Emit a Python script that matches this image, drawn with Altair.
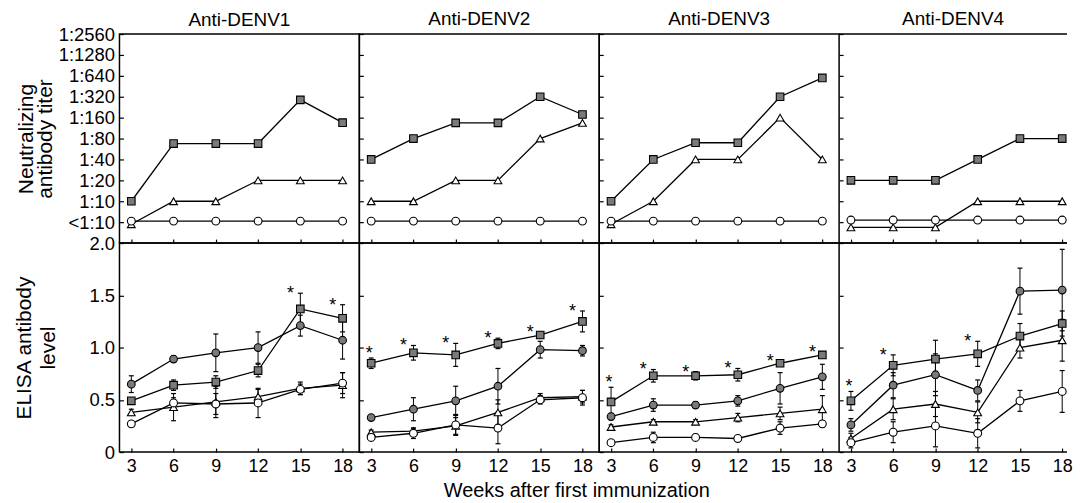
import altair as alt
import pandas as pd

FONT = "Liberation Sans"

weeks = [3, 6, 9, 12, 15, 18]
panel_names = ["Anti-DENV1", "Anti-DENV2", "Anti-DENV3", "Anti-DENV4"]
titer_labels = ["<1:10", "1:10", "1:20", "1:40", "1:80", "1:160",
                "1:320", "1:640", "1:1280", "1:2560"]
titer_levels = [0, 1, 2, 3, 4, 5, 6, 7, 8, 9]
elisa_ticks = [0, 0.5, 1.0, 1.5, 2.0]

# ---- neutralizing titers (index into titer_labels; fractional = between steps)
nt_square = [
    [1, 3.76, 3.76, 3.76, 5.85, 4.76],
    [3, 4, 4.75, 4.75, 6, 5.15],
    [1, 3, 3.8, 3.8, 6, 6.9],
    [2, 2, 2, 3, 4, 4],
]
nt_triangle = [
    [-0.1, 1, 1, 2, 2, 2],
    [1, 1, 2, 2, 4, 4.75],
    [-0.1, 1, 3, 3, 5, 3],
    [-0.25, -0.25, -0.25, 1, 1, 1],
]
nt_circle = [
    [0.05, 0.05, 0.05, 0.05, 0.05, 0.05],
    [0.05, 0.05, 0.05, 0.05, 0.05, 0.05],
    [0.05, 0.05, 0.05, 0.05, 0.05, 0.05],
    [0.1, 0.1, 0.1, 0.1, 0.1, 0.1],
]

# ---- ELISA antibody levels (mean, error)
el_square = [
    [0.49, 0.64, 0.67, 0.78, 1.37, 1.28],
    [0.85, 0.95, 0.93, 1.04, 1.12, 1.25],
    [0.48, 0.73, 0.73, 0.74, 0.85, 0.93],
    [0.49, 0.83, 0.89, 0.94, 1.11, 1.23],
]
el_square_err = [
    [0.03, 0.05, 0.06, 0.06, 0.15, 0.13],
    [0.05, 0.07, 0.11, 0.05, 0.03, 0.10],
    [0.14, 0.06, 0.04, 0.06, 0.02, 0.03],
    [0.09, 0.10, 0.18, 0.12, 0.12, 0.12],
]
el_fcircle = [
    [0.65, 0.89, 0.95, 1.00, 1.21, 1.07],
    [0.33, 0.41, 0.49, 0.63, 0.98, 0.97],
    [0.34, 0.45, 0.45, 0.49, 0.61, 0.72],
    [0.26, 0.64, 0.74, 0.59, 1.54, 1.55],
]
el_fcircle_err = [
    [0.08, 0.03, 0.18, 0.15, 0.10, 0.18],
    [0.02, 0.11, 0.14, 0.17, 0.08, 0.05],
    [0.03, 0.06, 0.03, 0.05, 0.15, 0.12],
    [0.06, 0.12, 0.20, 0.10, 0.22, 0.39],
]
el_triangle = [
    [0.38, 0.43, 0.48, 0.53, 0.61, 0.64],
    [0.19, 0.20, 0.25, 0.38, 0.52, 0.53],
    [0.24, 0.29, 0.29, 0.33, 0.37, 0.41],
    [0.13, 0.41, 0.46, 0.38, 1.00, 1.07],
]
el_triangle_err = [
    [0.03, 0.13, 0.15, 0.07, 0.06, 0.12],
    [0.02, 0.03, 0.08, 0.12, 0.04, 0.06],
    [0.02, 0.02, 0.02, 0.04, 0.06, 0.13],
    [0.05, 0.10, 0.12, 0.10, 0.10, 0.20],
]
el_ocircle = [
    [0.27, 0.47, 0.46, 0.47, 0.60, 0.66],
    [0.14, 0.18, 0.26, 0.23, 0.50, 0.52],
    [0.09, 0.14, 0.14, 0.13, 0.23, 0.27],
    [0.09, 0.19, 0.25, 0.18, 0.49, 0.58],
]
el_ocircle_err = [
    [0.02, 0.05, 0.10, 0.14, 0.05, 0.10],
    [0.03, 0.05, 0.10, 0.15, 0.04, 0.07],
    [0.02, 0.05, 0.03, 0.02, 0.06, 0.03],
    [0.05, 0.10, 0.20, 0.14, 0.10, 0.20],
]
# significance asterisks on the square series
star_flags = [
    [0, 0, 0, 0, 1, 1],
    [1, 1, 1, 1, 1, 1],
    [1, 1, 1, 1, 1, 1],
    [1, 1, 0, 1, 0, 0],
]

series_order = ["square", "filled circle", "triangle", "open circle"]

top_rows = []
bot_rows = []
for p, name in enumerate(panel_names):
    for s, arr in (("square", nt_square), ("triangle", nt_triangle),
                   ("open circle", nt_circle)):
        for w, v in zip(weeks, arr[p]):
            top_rows.append({"panel": name, "series": s, "week": w, "level": v})
    for s, arr, err in (("square", el_square, el_square_err),
                        ("filled circle", el_fcircle, el_fcircle_err),
                        ("triangle", el_triangle, el_triangle_err),
                        ("open circle", el_ocircle, el_ocircle_err)):
        for i, w in enumerate(weeks):
            v = arr[p][i]
            e = err[p][i]
            star = star_flags[p][i] if s == "square" else 0
            bot_rows.append({"panel": name, "series": s, "week": w, "value": v,
                             "lo": v - e, "hi": v + e, "star": star})
top_df = pd.DataFrame(top_rows)
bot_df = pd.DataFrame(bot_rows)

shape_scale = alt.Scale(domain=series_order,
                        range=["square", "circle", "triangle-up", "circle"])
fill_scale = alt.Scale(domain=series_order,
                       range=["#7a7a7a", "#7a7a7a", "#ffffff", "#ffffff"])
size_scale = alt.Scale(domain=series_order, range=[58, 62, 85, 80])

top_y_scale = alt.Scale(domain=[-1, 9], nice=False, zero=False)
bot_y_scale = alt.Scale(domain=[0, 2], nice=False, zero=False)

titer_expr = "[" + ",".join("'" + t + "'" for t in titer_labels) + "][datum.value]"

PW = 241          # panels 1-3
PW4 = 229         # last panel is cut at the right edge of the picture
TH = 210
BH = 210
X_LO = 2.16
X_HI = 19.19
X_HI4 = X_LO + (X_HI - X_LO) * PW4 / PW
LABEL_FS = 18.5
TITLE_OFF = 4.5


def x_scale(p):
    return alt.Scale(domain=[X_LO, X_HI4 if p == 3 else X_HI], nice=False, zero=False)


def x_axis(row, p):
    kw = dict(values=weeks, orient="bottom", offset=-4, tickSize=4, tickWidth=1.2,
              tickColor="black", domain=False, grid=False, labels=(row == 1),
              labelPadding=6, labelFontSize=18, labelFont=FONT,
              labelColor="black", labelOverlap=False, labelFlush=False)
    if row == 1 and p == 1:
        kw.update(title="Weeks after first immunization", titleFontSize=20,
                  titleFont=FONT, titleFontWeight="normal", titleColor="black",
                  titleX=218, titleY=48.5, titleBaseline="alphabetic",
                  titleAlign="center")
    else:
        kw.update(title=None)
    return alt.Axis(**kw)


def y_axis(row, p):
    kw = dict(offset=-4, tickSize=4, tickWidth=1.2, tickColor="black",
              domain=False, grid=False, labels=(p == 0), labelPadding=5,
              labelFontSize=LABEL_FS, labelFont=FONT, labelColor="black")
    if row == 0:
        kw.update(values=titer_levels, labelExpr=titer_expr)
        title = ["Neutralizing", "antibody titer"]
        tpad = 3
        lh = 19
    else:
        kw.update(values=elisa_ticks,
                  labelExpr="datum.value == 0 ? '0' : format(datum.value, '.1f')")
        title = ["ELISA antibody", "level"]
        tpad = 31
        lh = 24
    if p == 0:
        kw.update(title=title, titleFontSize=21, titleFont=FONT,
                  titleFontWeight="normal", titleColor="black",
                  titlePadding=tpad, titleLineHeight=lh)
    else:
        kw.update(title=None)
    return alt.Axis(**kw)


def point_layer(base, x, y):
    return base.mark_point(filled=True, stroke="black", strokeWidth=1.1,
                           opacity=1).encode(
        x=x, y=y,
        shape=alt.Shape("series:N", scale=shape_scale, legend=None),
        fill=alt.Fill("series:N", scale=fill_scale, legend=None),
        size=alt.Size("series:N", scale=size_scale, legend=None),
    )


def frame_rules(base, w, ys):
    # border lines for the last (cropped) panel, which has no right edge
    return [base.mark_rule(color="black", strokeWidth=1.5).encode(
        x=alt.value(0), x2=alt.value(w), y=alt.value(yv)) for yv in ys]


def top_panel(p):
    d = top_df[top_df["panel"] == panel_names[p]]
    base = alt.Chart(d)
    x = alt.X("week:Q", scale=x_scale(p), axis=x_axis(0, p))
    y = alt.Y("level:Q", scale=top_y_scale, axis=y_axis(0, p))
    line = base.mark_line(color="black", strokeWidth=1.3).encode(
        x=x, y=y, detail="series:N")
    pts = point_layer(base, x, y)
    layers = [line, pts]
    w = PW4 if p == 3 else PW
    # the first panel's top tick label sticks out above the frame; compensate
    off = TITLE_OFF - LABEL_FS / 2 if p == 0 else TITLE_OFF
    props = dict(width=w, height=TH,
                 title=alt.TitleParams(panel_names[p], fontSize=19, font=FONT,
                                       fontWeight="normal", color="black",
                                       offset=off, anchor="middle"))
    if p == 3:
        layers = frame_rules(alt.Chart(d.head(1)), w, [0, TH]) + layers
        props["view"] = alt.ViewBackground(stroke="transparent")
    return alt.layer(*layers).properties(**props)


def bottom_panel(p):
    d = bot_df[bot_df["panel"] == panel_names[p]]
    base = alt.Chart(d)
    x = alt.X("week:Q", scale=x_scale(p), axis=x_axis(1, p))
    yax = y_axis(1, p)
    y = alt.Y("value:Q", scale=bot_y_scale, axis=yax)
    ylo = alt.Y("lo:Q", scale=bot_y_scale, axis=yax)
    yhi = alt.Y("hi:Q", scale=bot_y_scale, axis=yax)
    rule = base.mark_rule(color="black", strokeWidth=1).encode(
        x=x, y=ylo, y2="hi:Q")
    cap_lo = base.mark_tick(orient="horizontal", color="black", size=5,
                            thickness=1.2, opacity=1).encode(x=x, y=ylo)
    cap_hi = base.mark_tick(orient="horizontal", color="black", size=5,
                            thickness=1.2, opacity=1).encode(x=x, y=yhi)
    line = base.mark_line(color="black", strokeWidth=1.3).encode(
        x=x, y=y, detail="series:N")
    pts = point_layer(base, x, y)
    # asterisks: straight above the first-week marker, upper-left elsewhere
    stars_first = base.transform_filter("datum.star == 1 && datum.week == 3").mark_text(
        text="*", fontSize=18, font=FONT, dx=-2, dy=-4, baseline="middle",
        align="center", color="black").encode(x=x, y=yhi)
    stars_rest = base.transform_filter("datum.star == 1 && datum.week > 3").mark_text(
        text="*", fontSize=18, font=FONT, dx=-10, dy=1, baseline="middle",
        align="center", color="black").encode(x=x, y=yhi)
    layers = [rule, cap_lo, cap_hi, line, pts, stars_first, stars_rest]
    w = PW4 if p == 3 else PW
    props = dict(width=w, height=BH)
    if p == 3:
        layers = frame_rules(alt.Chart(d.head(1)), w, [0, BH]) + layers
        props["view"] = alt.ViewBackground(stroke="transparent")
    return alt.layer(*layers).properties(**props)


charts = [top_panel(p) for p in range(4)] + [bottom_panel(p) for p in range(4)]

chart = alt.concat(*charts, columns=4, spacing=0, bounds="flush").properties(
    padding={"left": 4, "top": 0, "right": 0, "bottom": 0}
).configure_view(stroke="black", strokeWidth=1.5).configure_axis(
    labelFont=FONT, titleFont=FONT
)

chart.save("out.html", embed_options={"renderer": "svg", "actions": False})
